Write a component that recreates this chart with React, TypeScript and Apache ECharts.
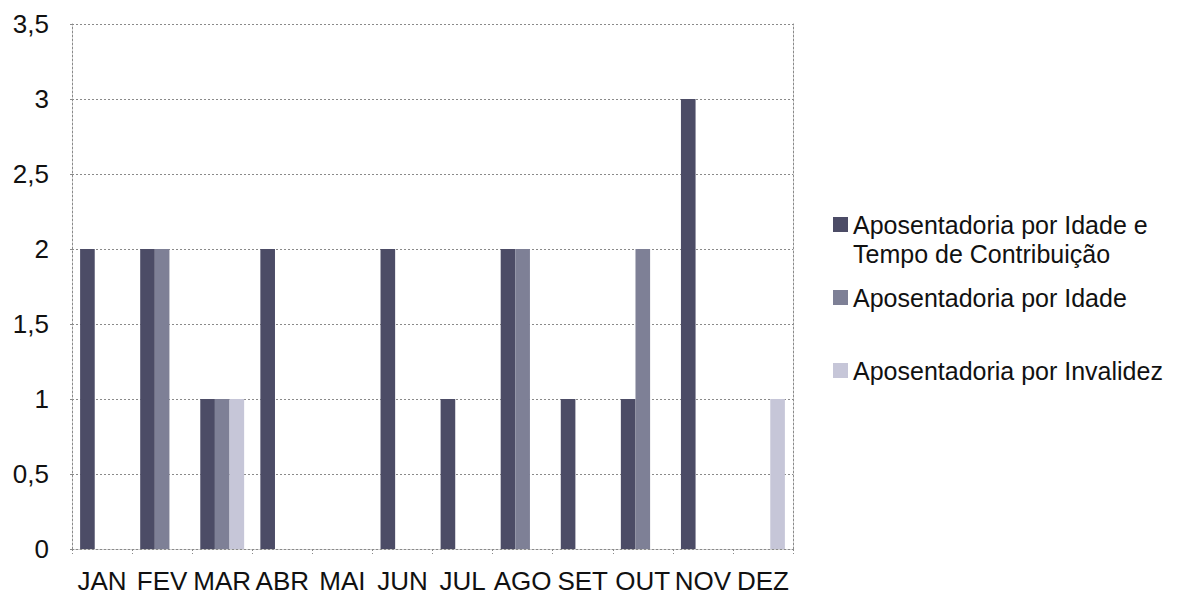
import React, { useEffect, useRef } from "react";
import * as echarts from "echarts";

const months = ["JAN", "FEV", "MAR", "ABR", "MAI", "JUN", "JUL", "AGO", "SET", "OUT", "NOV", "DEZ"];
const idadeTempo = [2, 2, 1, 2, 0, 2, 1, 2, 1, 1, 3, 0];
const idade = [0, 2, 1, 0, 0, 0, 0, 2, 0, 2, 0, 0];
const invalidez = [0, 0, 1, 0, 0, 0, 0, 0, 0, 0, 0, 1];
const seriesNames = [
  "Aposentadoria por Idade e Tempo de Contribuição",
  "Aposentadoria por Idade",
  "Aposentadoria por Invalidez",
];
const colors = ["#4c4c66", "#7e8096", "#c6c6d8"];

const FONT = "'Liberation Sans', Arial, sans-serif";

export default function App() {
  const ref = useRef<HTMLDivElement>(null);
  useEffect(() => {
    if (!ref.current) return;
    const chart = echarts.init(ref.current, null, { renderer: "svg" });
    const dotted = { color: "#8a8a8a", width: 1, type: [2, 2] as any };
    const legendBase = {
      orient: "vertical",
      left: 828,
      icon: "rect",
      itemWidth: 15,
      itemHeight: 15,
      itemGap: 5,
      textStyle: { fontFamily: FONT, fontSize: 25, color: "#111", lineHeight: 25 },
      selectedMode: false,
    };
    chart.setOption({
      animation: false,
      backgroundColor: "#fff",
      textStyle: { fontFamily: FONT },
      grid: { left: 72, right: 404, top: 24, bottom: 48, containLabel: false },
      legend: [
        {
          ...legendBase,
          top: 207,
          data: [seriesNames[0]],
          formatter: () => "Aposentadoria por Idade e",
        },
        { ...legendBase, top: 280, data: [seriesNames[1]] },
        { ...legendBase, top: 353, data: [seriesNames[2]] },
      ],
      graphic: [
        {
          type: "text",
          left: 853,
          top: 241,
          style: { text: "Tempo de Contribuição", fontFamily: FONT, fontSize: 25, lineHeight: 25, fill: "#111" },
        },
      ],
      xAxis: {
        type: "category",
        data: months,
        axisLine: { show: true, lineStyle: dotted },
        axisTick: { show: true, length: 5, lineStyle: dotted, alignWithLabel: false },
        axisLabel: { interval: 0, fontFamily: FONT, fontSize: 26, color: "#111", margin: 19 },
      },
      yAxis: [
        {
          type: "value",
          min: 0,
          max: 3.5,
          interval: 0.5,
          axisLine: { show: true, lineStyle: dotted },
          axisTick: { show: true, length: 4, lineStyle: dotted },
          axisLabel: {
            fontFamily: FONT,
            fontSize: 26,
            color: "#111",
            margin: 23,
            formatter: (v: number) => String(v).replace(".", ","),
          },
          splitLine: { show: true, lineStyle: dotted },
        },
        {
          type: "value",
          min: 0,
          max: 3.5,
          interval: 0.5,
          position: "right",
          axisLine: { show: true, lineStyle: dotted },
          axisTick: { show: false },
          axisLabel: { show: false },
          splitLine: { show: false },
        },
      ],
      series: [
        { name: seriesNames[0], type: "bar", data: idadeTempo, itemStyle: { color: colors[0] }, barGap: 0, barCategoryGap: "27%" },
        { name: seriesNames[1], type: "bar", data: idade, itemStyle: { color: colors[1] }, barGap: 0, barCategoryGap: "27%" },
        { name: seriesNames[2], type: "bar", data: invalidez, itemStyle: { color: colors[2] }, barGap: 0, barCategoryGap: "27%" },
      ],
    });
    return () => chart.dispose();
  }, []);
  return <div ref={ref} style={{ width: 1197, height: 597, position: "absolute", left: 0, top: 0 }} />;
}
